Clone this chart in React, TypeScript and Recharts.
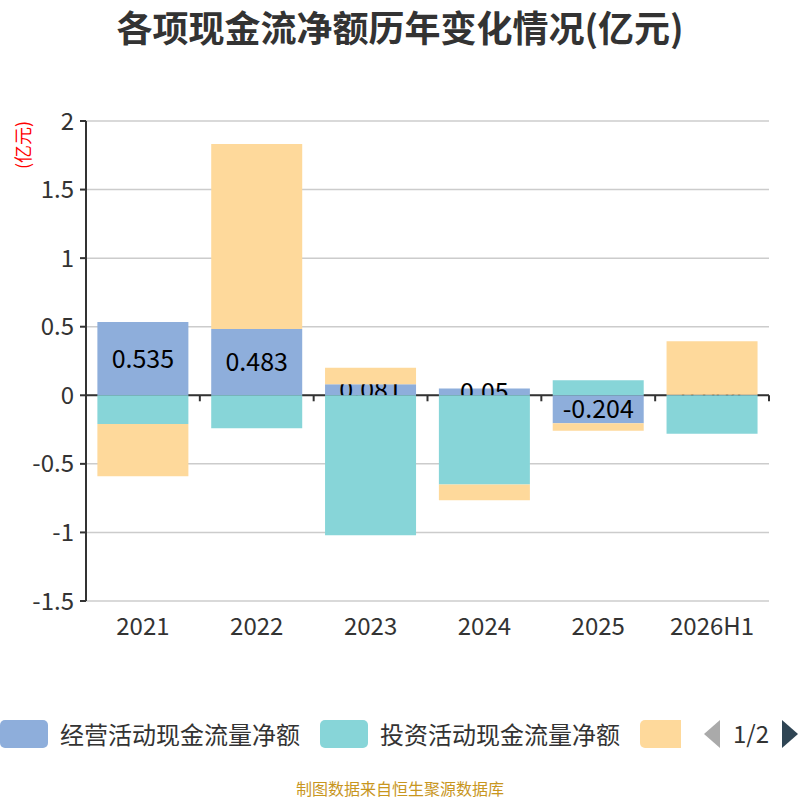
import React from 'react'
import { BarChart, Bar, XAxis, YAxis, CartesianGrid, ReferenceLine, Rectangle } from 'recharts'

const years = ['2021', '2022', '2023', '2024', '2025', '2026H1']
const operating = [0.535, 0.483, 0.081, 0.05, -0.204, 0.004]
const investing = [-0.21, -0.24, -1.02, -0.65, 0.11, -0.28]
const financing = [-0.38, 1.35, 0.12, -0.115, -0.055, 0.39]
const yTicks = [2, 1.5, 1, 0.5, 0, -0.5, -1, -1.5]
const seriesNames = ['经营活动现金流量净额', '投资活动现金流量净额', '筹资活动现金流量净额']
const colors = ['#8eaedb', '#87d5d8', '#fed99b']

const data = years.map((year, i) => ({
  year,
  operating: operating[i],
  investing: investing[i],
  financing: financing[i],
}))

// layout of the plot area
const PLOT_LEFT = 86
const PLOT_RIGHT = 769
const PLOT_TOP = 121
const PLOT_BOTTOM = 601
const Y_MIN = -1.5
const Y_MAX = 2
const ZERO_Y = PLOT_TOP + (PLOT_BOTTOM - PLOT_TOP) * (Y_MAX / (Y_MAX - Y_MIN))
const BAND = (PLOT_RIGHT - PLOT_LEFT) / years.length

const FONT = '"Noto Sans CJK SC", "Noto Sans", sans-serif'

// category label at the bottom, tick mark on the zero line between categories
function XTick(props: any) {
  const { x, payload } = props
  return (
    <g>
      <text x={x} y={PLOT_BOTTOM + 34} textAnchor="middle" fill="#333" fontSize={24} fontFamily={FONT}>
        {payload.value}
      </text>
      <line x1={x + BAND / 2} x2={x + BAND / 2} y1={ZERO_Y} y2={ZERO_Y + 6} stroke="#333" strokeWidth={2} />
    </g>
  )
}

// operating bar draws its own value so the later series paint over it
function OperatingShape(props: any) {
  const { x, y, width, height, value, fill } = props
  const v = Array.isArray(value) ? value[1] - value[0] : value
  return (
    <g>
      <Rectangle x={x} y={y} width={width} height={height} fill={fill} />
      <text
        x={x + width / 2}
        y={y + height / 2 - 2}
        textAnchor="middle"
        dominantBaseline="central"
        fill="#000"
        fontSize={25}
        fontFamily={FONT}
      >
        {operating[props.index] ?? v}
      </text>
    </g>
  )
}

export default function App() {
  return (
    <div style={{ position: 'absolute', left: 0, top: 0, width: 800, height: 800, background: '#fff', fontFamily: FONT }}>
      <div style={{ position: 'absolute', top: 2, left: 0, width: 800, textAlign: 'center', fontSize: 36, fontWeight: 700, color: '#333', lineHeight: '48px' }}>
        各项现金流净额历年变化情况(亿元)
      </div>
      <div style={{ position: 'absolute', left: 22, top: 145, transform: 'translate(-50%, -50%) rotate(-90deg)', color: '#ff0000', fontSize: 18, whiteSpace: 'nowrap' }}>
        (亿元)
      </div>

      <BarChart
        width={800}
        height={800}
        data={data}
        stackOffset="sign"
        barCategoryGap="10%"
        margin={{ top: PLOT_TOP, right: 800 - PLOT_RIGHT, left: 0, bottom: 800 - PLOT_BOTTOM - 30 }}
      >
        <CartesianGrid vertical={false} stroke="#ccc" strokeWidth={1.5} />
        <ReferenceLine y={0} stroke="#333" strokeWidth={2} zIndex={-50} />
        <XAxis dataKey="year" height={30} axisLine={false} tickLine={false} tick={<XTick />} interval={0} />
        <YAxis
          width={PLOT_LEFT}
          domain={[Y_MIN, Y_MAX]}
          ticks={yTicks}
          allowDataOverflow
          axisLine={{ stroke: '#333', strokeWidth: 2 }}
          tickLine={{ stroke: '#333', strokeWidth: 2 }}
          tickSize={6}
          tickMargin={6}
          tick={{ fill: '#333', fontSize: 24, fontFamily: FONT }}
        />
        <Bar dataKey="operating" stackId="cf" fill={colors[0]} isAnimationActive={false} shape={<OperatingShape />} />
        <Bar dataKey="investing" stackId="cf" fill={colors[1]} isAnimationActive={false} />
        <Bar dataKey="financing" stackId="cf" fill={colors[2]} isAnimationActive={false} />
      </BarChart>

      {/* paged legend, page 1 of 2 */}
      <div style={{ position: 'absolute', top: 716, left: 0, width: 800, height: 40, overflow: 'hidden' }}>
        {seriesNames.slice(0, 2).map((name, i) => (
          <div key={name} style={{ position: 'absolute', left: i * 320, top: 4, height: 28, display: 'flex', alignItems: 'center' }}>
            <div style={{ width: 48, height: 28, borderRadius: 5, background: colors[i], flexShrink: 0 }} />
            <span style={{ marginLeft: 12, fontSize: 24, lineHeight: '32px', color: '#333', whiteSpace: 'nowrap' }}>{name}</span>
          </div>
        ))}
        <div style={{ position: 'absolute', left: 640, top: 4, width: 41, height: 28, borderRadius: '5px 0 0 5px', background: colors[2] }} />
      </div>
      <svg style={{ position: 'absolute', left: 700, top: 714 }} width={100} height={42}>
        <polygon points="20,6 4,20 20,34" fill="#aaa" />
        <text x={51} y={29} textAnchor="middle" fontSize={24} fill="#333" fontFamily={FONT}>1/2</text>
        <polygon points="82,6 98,20 82,34" fill="#2f4554" />
      </svg>

      <div style={{ position: 'absolute', top: 778, left: 0, width: 800, textAlign: 'center', fontSize: 16, lineHeight: '20px', color: '#c8961e' }}>
        制图数据来自恒生聚源数据库
      </div>
    </div>
  )
}
